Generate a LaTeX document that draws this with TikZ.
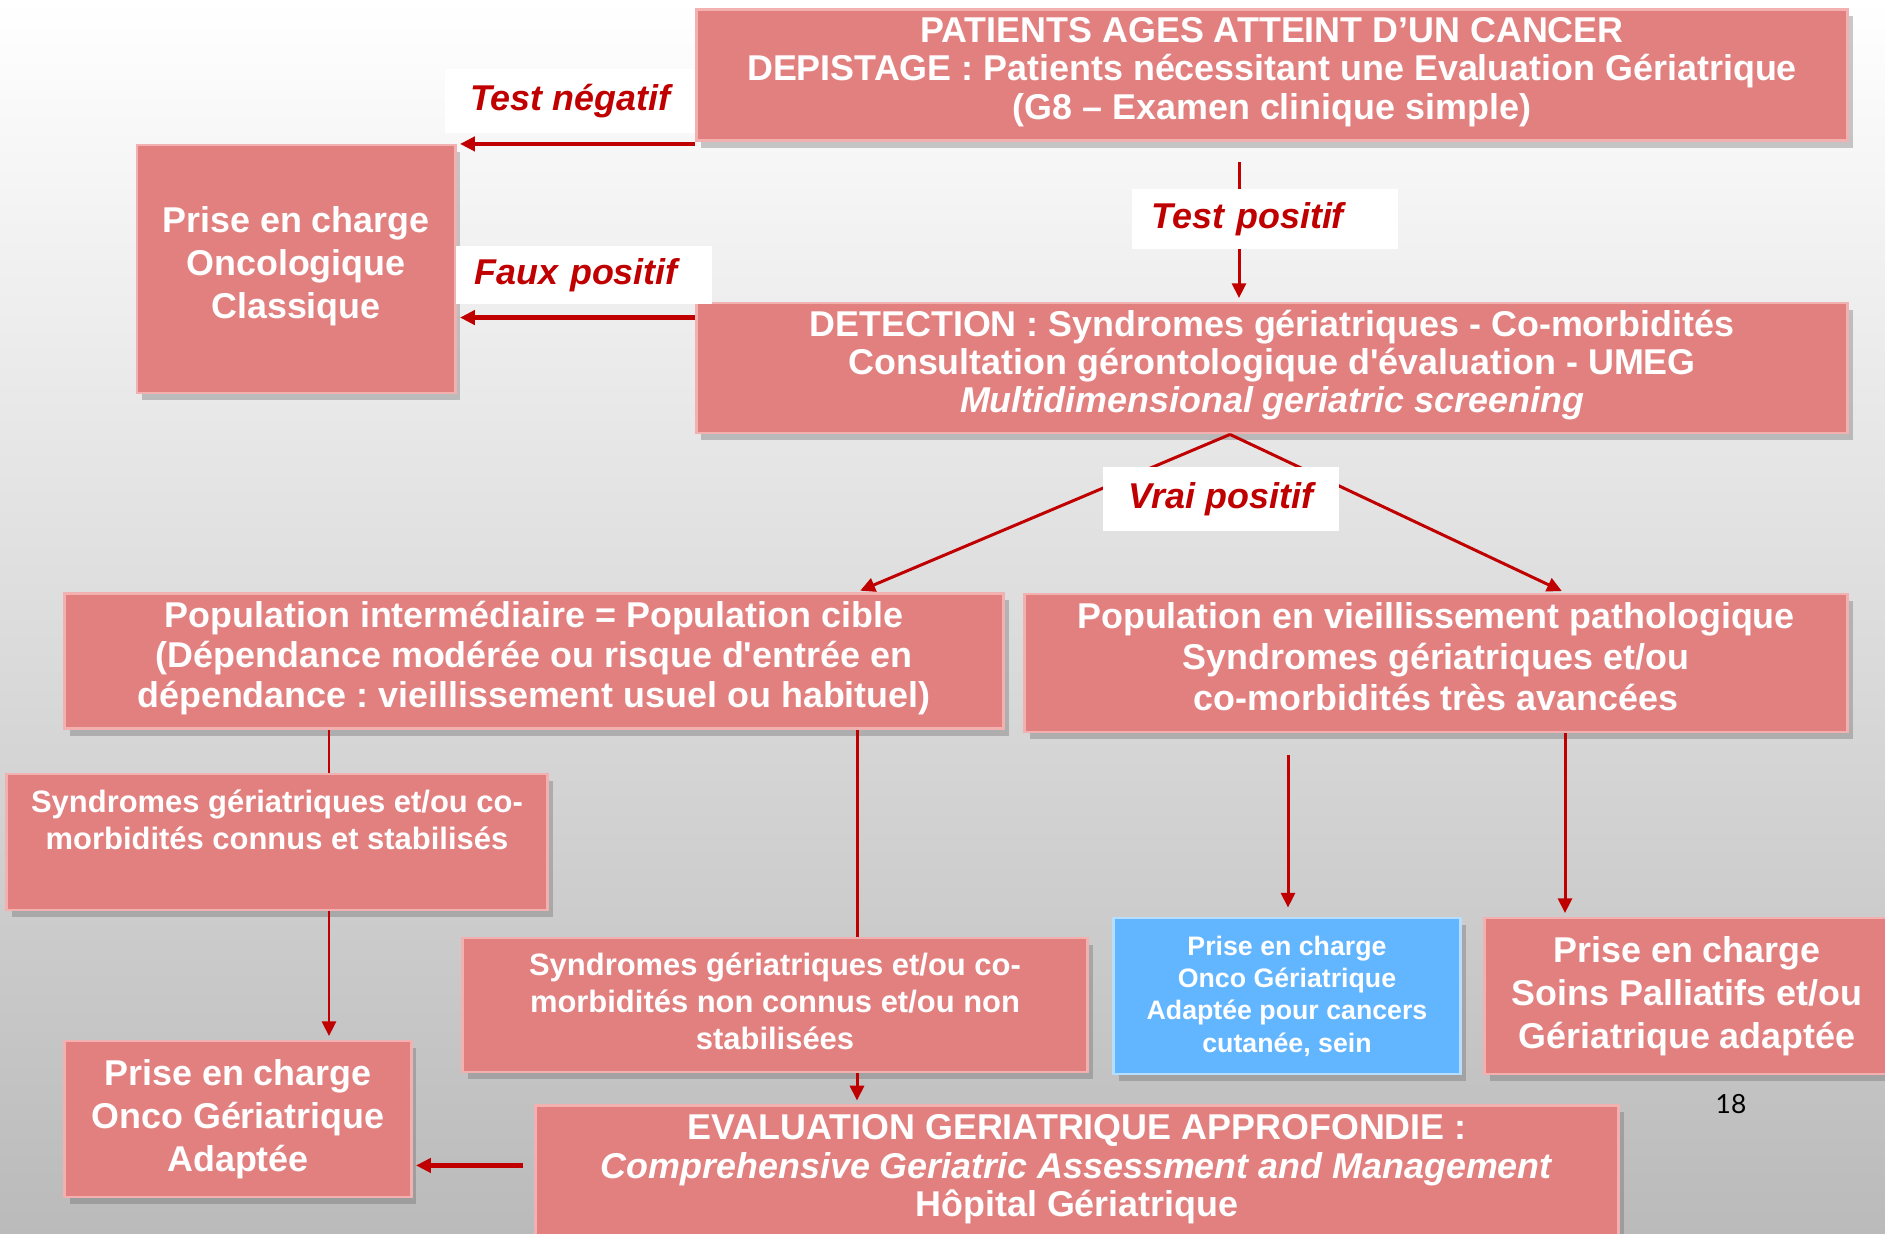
\documentclass[tikz,border=0pt]{standalone}
\usepackage{fontspec}
\setmainfont{Liberation Sans}[Ligatures=TeXOff]
\newfontfamily\pagefont{Lato}
\usetikzlibrary{positioning,arrows.meta,shadows}
\frenchspacing

\definecolor{boxred}{RGB}{226,128,128}
\definecolor{boxedge}{RGB}{242,176,176}
\definecolor{boxblue}{RGB}{98,181,255}
\definecolor{arrowred}{RGB}{192,0,0}

% extra room under the last line, so the text sits a little high in its box
\newcommand\liftup[2][1.7pt]{\raisebox{0pt}[\height][\dimexpr\depth+#1\relax]{#2}}

\begin{document}
\begin{tikzpicture}[
    x=0.01cm, y=-0.01cm,
    stage/.style={rectangle, draw=boxedge, line width=0.8pt, fill=boxred, text=white, align=center, inner sep=0pt,
        font=\bfseries\fontsize{10.2}{10.9}\selectfont,
        drop shadow={shadow xshift=1.5pt, shadow yshift=-2pt, opacity=0.35, fill=black!60}},
    bigstage/.style={stage, font=\bfseries\fontsize{10.2}{12.3}\selectfont},
    smallstage/.style={stage, font=\bfseries\fontsize{8.8}{10.5}\selectfont},
    bluestage/.style={stage, fill=boxblue, draw=white!55!boxblue, font=\bfseries\fontsize{7.6}{9.2}\selectfont},
    tagbox/.style={rectangle, fill=white, text=arrowred, inner sep=0pt, font=\bfseries\itshape\fontsize{10.2}{12}\selectfont},
    conn/.style={arrowred, line width=0.85pt},
    flow/.style={conn, -{Triangle[length=4.2pt, width=4pt]}, shorten >=1pt},
    hflow/.style={flow, line width=1.3pt}
]
\useasboundingbox (0,0) rectangle (1885,1234);
\shade[top color=white, middle color=black!9, bottom color=black!27] (0,0) rectangle (1885,1234);

% Screening and detection
\node[stage, minimum width=11.51cm, minimum height=1.31cm] (screen) at (1272,75)
    {PATIENTS AGES ATTEINT D’UN CANCER\\DEPISTAGE : Patients nécessitant une Evaluation Gériatrique\\\liftup{(G8 – Examen clinique simple)}};
\node[stage, minimum width=11.51cm, minimum height=1.30cm] (detect) at (1272,368)
    {DETECTION : Syndromes gériatriques - Co-morbidités\\Consultation gérontologique d'évaluation - UMEG\\\liftup{\textit{Multidimensional geriatric screening}}};
\node[bigstage, minimum width=3.18cm, minimum height=2.48cm] (classic) at (296,269)
    {Prise en charge\\Oncologique\\\liftup{Classique}};

% Populations
\node[stage, font=\bfseries\fontsize{10.2}{11.3}\selectfont, minimum width=9.39cm, minimum height=1.35cm] (popint) at (534,661)
    {Population intermédiaire = Population cible\\(Dépendance modérée ou risque d'entrée en\\\liftup{dépendance : vieillissement usuel ou habituel)}};
\node[stage, font=\bfseries\fontsize{10.2}{11.6}\selectfont, minimum width=8.23cm, minimum height=1.38cm] (poppath) at (1436,663)
    {Population en vieillissement pathologique\\Syndromes gériatriques et/ou\\\liftup[3.6pt]{co-morbidités très avancées}};

% Sub-groups
\node[smallstage, minimum width=5.41cm, minimum height=1.36cm] (known) at (277,842)
    {Syndromes gériatriques et/ou co-\\morbidités connus et stabilisés\\\liftup[2pt]{\mbox{}}};
\node[smallstage, minimum width=6.25cm, minimum height=1.34cm] (unknown) at (775,1005)
    {Syndromes gériatriques et/ou co-\\morbidités non connus et/ou non\\\liftup[2pt]{stabilisées}};

% Care paths
\node[bluestage, minimum width=3.47cm, minimum height=1.56cm] (blueadapt) at (1287,996)
    {Prise en charge\\Onco Gériatrique\\Adaptée pour cancers\\cutanée, sein};
\node[bigstage, minimum width=4.04cm, minimum height=1.56cm] (palliative) at (1687,996)
    {Prise en charge\\Soins Palliatifs et/ou\\Gériatrique adaptée};
\node[bigstage, minimum width=3.46cm, minimum height=1.56cm] (adapted) at (238,1119)
    {Prise en charge\\Onco Gériatrique\\Adaptée};
\node[stage, anchor=north, minimum width=10.82cm, minimum height=1.40cm] (cga) at (1077,1104)
    {EVALUATION GERIATRIQUE APPROFONDIE :\\\textit{Comprehensive Geriatric Assessment and Management}\\\liftup[3.4pt]{Hôpital Gériatrique}};

\node[font=\pagefont\fontsize{7.5}{9}\selectfont] (pagenum) at (1731,1104) {18};

% Columns of the vertical links
\coordinate (colT) at (1239,0);
\coordinate (colV) at (1230,0);
\coordinate (colA) at (329,0);
\coordinate (colB) at (857,0);
\coordinate (colC) at (1288,0);
\coordinate (colD) at (1565,0);

% Screening outcomes
\draw[hflow] ([yshift=-0.02cm]screen.south west) -- ([yshift=-0.02cm]screen.south west -| classic.east);
\draw[hflow] ([yshift=-0.16cm]detect.north west) -- ([yshift=-0.16cm]detect.north west -| classic.east);
\draw[flow, shorten <=0.2cm] (screen.south -| colT) -- (detect.north -| colT);

% True positives
\draw[flow] (detect.south -| colV) -- (popint.north -| colB);
\draw[flow] (detect.south -| colV) -- (poppath.north -| colD);

% Population branches
\draw[conn] (popint.south -| colA) -- (known.north -| colA);
\draw[conn] (popint.south -| colB) -- (unknown.north -| colB);
\foreach \from/\to/\col in {known/adapted/colA, unknown/cga/colB, poppath/palliative/colD} {
    \draw[flow] (\from.south -| \col) -- (\to.north -| \col);
}
\draw[flow, shorten <=0.22cm, shorten >=0.09cm] (poppath.south -| colC) -- (blueadapt.north -| colC);
\draw[hflow, shorten <=0.11cm] ([yshift=0.1cm]cga.west) -- ([yshift=0.1cm]cga.west -| adapted.east);

% Labels on the links
\node[tagbox, minimum width=2.50cm, minimum height=0.63cm] (testneg) at (570,101) {Test négatif};
\node[tagbox, text width=2.19cm, inner xsep=0.18cm, align=left, minimum height=0.58cm] (falsepos) at (584,275) {Faux positif};
\node[tagbox, text width=2.26cm, inner xsep=0.2cm, align=left, minimum height=0.60cm] (testpos) at (1265,219) {Test positif};
\node[tagbox, minimum width=2.35cm, minimum height=0.64cm] (truepos) at (1221,499) {Vrai positif};

\end{tikzpicture}
\end{document}
